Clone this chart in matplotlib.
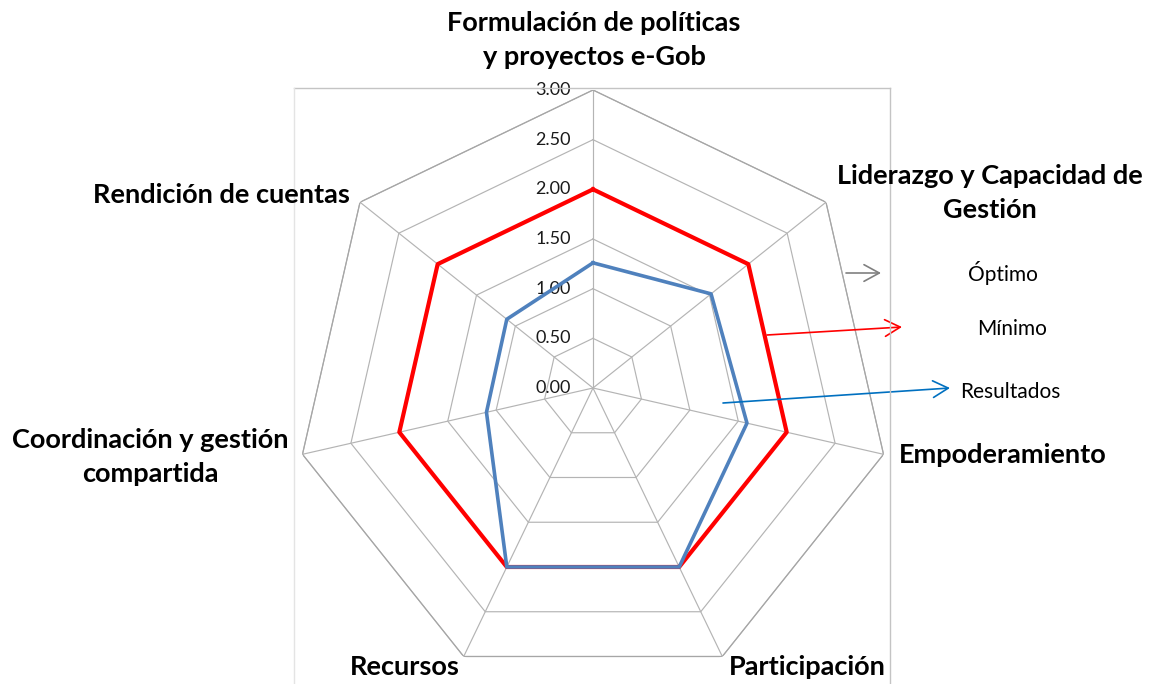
import numpy as np
import matplotlib
matplotlib.use("Agg")
import matplotlib.pyplot as plt
from matplotlib.transforms import offset_copy
from matplotlib.lines import Line2D

# ---------------- data ----------------
categories = ["Formulación de políticas\ny proyectos e-Gob",
              "Liderazgo y Capacidad de\nGestión",
              "Empoderamiento",
              "Participación",
              "Recursos",
              "Coordinación y gestión\ncompartida",
              "Rendición de cuentas"]
optimo = [3.0, 3.0, 3.0, 3.0, 3.0, 3.0, 3.0]
minimo = [2.0, 2.0, 2.0, 2.0, 2.0, 2.0, 2.0]
resultados = [1.26, 1.52, 1.59, 2.0, 2.0, 1.10, 1.11]
tick_values = [0.0, 0.5, 1.0, 1.5, 2.0, 2.5, 3.0]
tick_labels = ["0.00", "0.50", "1.00", "1.50", "2.00", "2.50", "3.00"]
legend_labels = ["Óptimo", "Mínimo", "Resultados"]

W, H = 1160, 684
plt.rcParams['font.family'] = ['Lato', 'DejaVu Sans']
fig = plt.figure(figsize=(W / 100, H / 100), dpi=100)

def fx(px):
    return px / W

def fy(py):
    return 1 - py / H

# plot-area border (light frame)
fig.add_artist(Line2D([fx(294), fx(890)], [fy(88), fy(88)], color="#C4C4C4", lw=1.0))
fig.add_artist(Line2D([fx(890), fx(890)], [fy(88), 0], color="#C4C4C4", lw=1.0))
fig.add_artist(Line2D([fx(294), fx(294)], [fy(88), 0], color="#E4E4E4", lw=1.0))

cx, cy, R = 593, 388, 298
ax = fig.add_axes([fx(cx - R), fy(cy + R), 2 * R / W, 2 * R / H], projection="polar")
ax.set_theta_zero_location("N")
ax.set_theta_direction(-1)
ax.set_ylim(0, 3)
ax.set_xticks([])
ax.set_yticks([])
ax.grid(False)
ax.spines["polar"].set_visible(False)
ax.patch.set_alpha(0)

n = len(categories)
theta = np.linspace(0, 2 * np.pi, n, endpoint=False)
theta_c = np.append(theta, theta[0])

grid_c = "#B4B4B4"
for lvl in tick_values[1:]:
    ax.plot(theta_c, [lvl] * (n + 1), color=grid_c, lw=0.85, zorder=1)
for t in theta:
    ax.plot([t, t], [0, 3], color=grid_c, lw=0.85, zorder=1)

ax.plot(theta_c, optimo + [optimo[0]], color="#A6A6A6", lw=0.85, zorder=2)
ax.plot(theta_c, minimo + [minimo[0]], color="#FF0000", lw=3.0, zorder=3)
ax.plot(theta_c, resultados + [resultados[0]], color="#4F81BD", lw=2.6, zorder=4)

# radial tick labels
tr = offset_copy(ax.transData, fig=fig, x=-22, y=0, units="dots")
for v, s in zip(tick_values, tick_labels):
    ax.text(0, v, s, transform=tr, ha="right", va="center", fontsize=13, color="#1A1A1A")

# category labels (pixel centres)
label_pos = [(594, 40), (990, 193), (1003, 455), (807, 667), (405, 667), (150, 457), (221, 195)]
for lab, (px, py) in zip(categories, label_pos):
    fig.text(fx(px), fy(py), lab, ha="center", va="center", fontsize=19.5,
             fontweight="bold", color="black", linespacing=1.5)

# legend-like annotations
leg_text_pos = [(1003, 273), (1012, 329), (1010, 392)]
arrows = [((846, 273), (881, 273), "#808080"),
          ((767, 335), (902, 327), "#FF0000"),
          ((723, 403), (950, 388), "#0070C0")]
for s, (px, py) in zip(legend_labels, leg_text_pos):
    fig.text(fx(px), fy(py), s, ha="center", va="center", fontsize=15, color="black")
for (x0, y0), (x1, y1), c in arrows:
    fig.add_artist(matplotlib.patches.FancyArrowPatch(
        (fx(x0), fy(y0)), (fx(x1), fy(y1)), transform=fig.transFigure,
        arrowstyle="->,head_length=1.1,head_width=0.6", color=c, lw=1.2,
        mutation_scale=10, shrinkA=0, shrinkB=0))

fig.savefig("out.png", dpi=100)
